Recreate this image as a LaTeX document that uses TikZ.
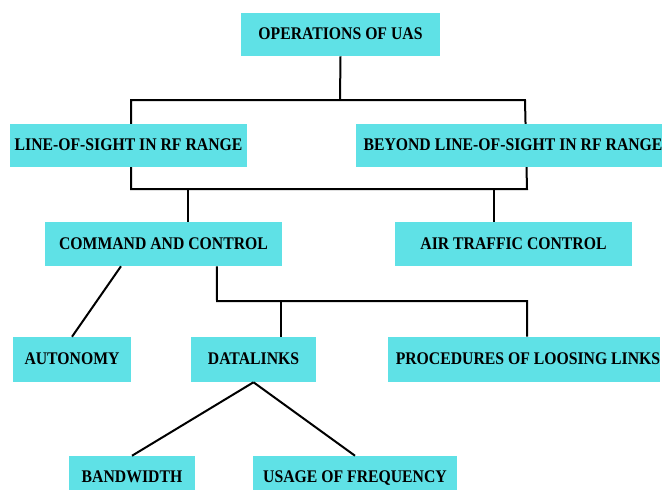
\documentclass[tikz,border=0pt]{standalone}
\usepackage{fontspec}
\usepackage{graphicx}
\setmainfont{Liberation Serif}
\usetikzlibrary{backgrounds}
\definecolor{boxcyan}{RGB}{95,225,230}
\newcommand{\tallt}[1]{\raisebox{1pt}{\scalebox{1}[1.13]{#1}}}
\begin{document}
\begin{tikzpicture}[x=0.75pt,y=-0.75pt,
  box/.style={fill=boxcyan, draw=none, inner sep=0pt, font=\bfseries\fontsize{11.8}{14}\selectfont, text=black},
  conn/.style={draw=black, line width=1.5pt}]
\useasboundingbox (0,0) rectangle (662,490);
\clip (0,0) rectangle (662,490);
\node[box, minimum width=149.25pt, minimum height=32.5pt] (ops) at (340.5,34.5) {\tallt{OPERATIONS OF UAS}};
\node[box, minimum width=177.75pt, minimum height=32.25pt] (los) at (128.5,145.5) {\tallt{LINE-OF-SIGHT IN RF RANGE}};
\node[box, minimum width=235.5pt, minimum height=32.25pt] (blos) at (513,145.5) {\tallt{BEYOND LINE-OF-SIGHT IN RF RANGE}};
\node[box, minimum width=177.75pt, minimum height=33pt] (cmd) at (163.5,244) {\tallt{COMMAND AND CONTROL}};
\node[box, minimum width=177.75pt, minimum height=33pt] (atc) at (513.5,244) {\tallt{AIR TRAFFIC CONTROL}};
\node[box, minimum width=88.5pt, minimum height=33.75pt] (aut) at (72,359.5) {\tallt{AUTONOMY}};
\node[box, minimum width=93.75pt, minimum height=33.75pt] (dl) at (253.5,359.5) {\tallt{DATALINKS}};
\node[box, minimum width=202.5pt, minimum height=33.75pt] (proc) at (524,359.5) {\hspace*{6pt}\tallt{PROCEDURES OF LOOSING LINKS}};
\node[box, minimum width=94.5pt, minimum height=33pt] (bw) at (132,478) {\raisebox{1.5pt}{\tallt{BANDWIDTH}}};
\node[box, minimum width=153pt, minimum height=33pt] (usage) at (355,478) {\raisebox{1.5pt}{\tallt{USAGE OF FREQUENCY}}};
\coordinate (j1) at (340,100);
\coordinate (tl) at (131,100);
\coordinate (tr) at (525,100);
\coordinate (br) at (527,189);
\coordinate (bl) at (131,189);
\coordinate (b1) at (188,189);
\coordinate (b2) at (494,189);
\coordinate (j2) at (217,301);
\coordinate (j3) at (527,301);
\coordinate (j4) at (281,301);
\begin{scope}[on background layer]
\draw[conn] (ops.south) -- (j1);
\draw[conn] (tl) -- (tr) -- (br) -- (bl) -- cycle;
\end{scope}
\draw[conn] (b1) -- (b1 |- cmd.north);
\draw[conn] (b2) -- (b2 |- atc.north);
\draw[conn] ([xshift=-31.9pt]cmd.south) -- (aut.north);
\draw[conn] ([xshift=40.1pt]cmd.south) -- (j2) -- (j3) -- (j3 |- proc.north);
\draw[conn] (j4) -- (j4 |- dl.north);
\draw[conn] (dl.south) -- (bw.north);
\draw[conn] (dl.south) -- (usage.north);
\end{tikzpicture}
\end{document}
